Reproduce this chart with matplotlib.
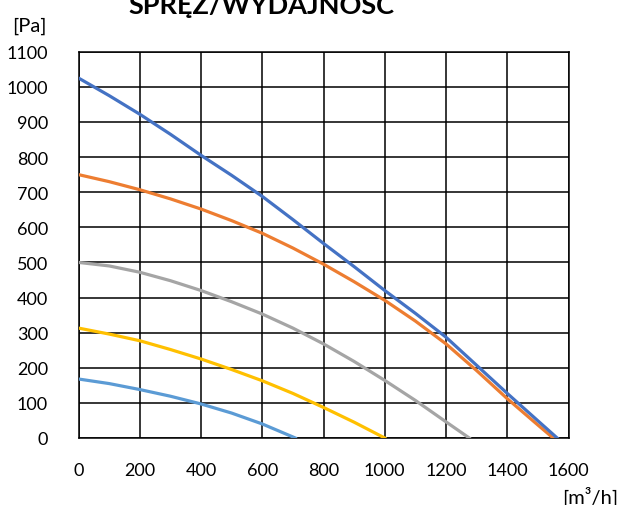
import numpy as np
import matplotlib
matplotlib.use("Agg")
import matplotlib.pyplot as plt

plt.rcParams['font.family'] = ['Lato', 'DejaVu Sans']

# flow [m3/h] and pressure [Pa], one list per curve
x_blue = [0, 100, 200, 300, 400, 500, 600, 700, 800, 900, 1000, 1100, 1200, 1300, 1400, 1500, 1563]
y_blue = [1025, 975, 922, 865, 805, 748, 688, 622, 554, 488, 420, 355, 287, 207, 127, 49, 0]

x_orange = [0, 100, 200, 300, 400, 500, 600, 700, 800, 900, 1000, 1100, 1200, 1300, 1400, 1500, 1550]
y_orange = [750, 730, 707, 681, 652, 619, 583, 541, 495, 445, 392, 333, 268, 192, 112, 37, 0]

x_gray = [0, 100, 200, 300, 400, 500, 600, 700, 800, 900, 1000, 1100, 1200, 1276]
y_gray = [500, 490, 472, 448, 420, 388, 353, 313, 268, 218, 164, 107, 46, 0]

x_yellow = [0, 100, 200, 300, 400, 500, 600, 700, 800, 900, 1000]
y_yellow = [313, 296, 277, 252, 225, 195, 163, 127, 87, 45, 0]

x_lblue = [0, 100, 200, 300, 400, 500, 600, 700, 708]
y_lblue = [168, 155, 138, 119, 97, 71, 40, 3, 0]

xticks = np.arange(0, 1601, 200)
yticks = np.arange(0, 1101, 100)

fig = plt.figure(figsize=(6.21, 5.06), dpi=100)
ax = fig.add_axes([78.5/621, 1-439/506, 490/621, 386.3/506])

lw = 2.3
ax.plot(x_lblue, y_lblue, color='#5B9BD5', lw=lw, zorder=3)
ax.plot(x_yellow, y_yellow, color='#FFC000', lw=lw, zorder=3)
ax.plot(x_gray, y_gray, color='#A5A5A5', lw=lw, zorder=3)
ax.plot(x_orange, y_orange, color='#ED7D31', lw=lw, zorder=3)
ax.plot(x_blue, y_blue, color='#4472C4', lw=lw, zorder=3)

ax.set_xlim(0, 1600)
ax.set_ylim(0, 1100)
ax.set_xticks(xticks)
ax.set_yticks(yticks)
ax.grid(True, color='black', lw=1.1)
ax.set_axisbelow(True)
for s in ax.spines.values():
    s.set_color('black')
    s.set_linewidth(1.1)
ax.tick_params(axis='both', length=0, labelsize=13, colors='black')
ax.tick_params(axis='y', pad=22)
ax.tick_params(axis='x', pad=17.5)

fig.text(261/621, 1-14/506, 'SPRĘŻ/WYDAJNOŚĆ', ha='center', va='baseline',
         fontsize=19.5, fontweight='bold')
fig.text(47/621, 1-26/506, '[Pa]', ha='right', va='center', fontsize=14.5)
fig.text(618/621, 1-487/506, '[m³/h]', ha='right', va='top', fontsize=14.5)

fig.savefig('out.png', dpi=100)
